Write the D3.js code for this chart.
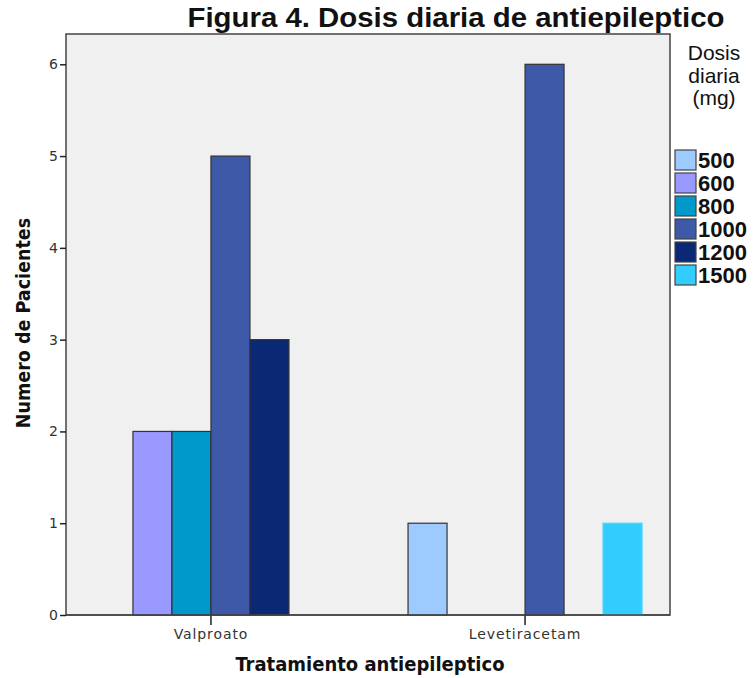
<!DOCTYPE html>
<html>
<head>
<meta charset="utf-8">
<script src="https://cdn.jsdelivr.net/npm/d3@7"></script>
<style>
body { margin: 0; background: #ffffff; }
</style>
</head>
<body>
<svg id="chart"></svg>
<script>
//Data
var treatments = ["Valproato", "Levetiracetam"];
var doses = ["500", "600", "800", "1000", "1200", "1500"];
var valproatoCounts = [0, 2, 2, 5, 3, 0];
var levetiracetamCounts = [1, 0, 0, 6, 0, 1];
var doseColors = ["#9ecbff", "#9999ff", "#0099cc", "#3d59a8", "#0a2873", "#33ccff"];
var yTicks = [0, 1, 2, 3, 4, 5, 6];

//Rows for the bars
var rows = [];
treatments.forEach(function(t, ti){
    var counts = ti === 0 ? valproatoCounts : levetiracetamCounts;
    doses.forEach(function(dose, di){
        if (counts[di] > 0) rows.push({treatment: t, dose: dose, value: counts[di]});
    });
});

//Dimensions
var dimensions = {
    width: 754,
    height: 678,
    margin: { top: 34, right: 84, bottom: 63, left: 66 }
};

var svg = d3.select("#chart")
            .attr("width", dimensions.width)
            .attr("height", dimensions.height)
            .style("font-family", "'DejaVu Sans Condensed', 'DejaVu Sans', sans-serif");

var plotBottom = dimensions.height - dimensions.margin.bottom;
var plotRight = dimensions.width - dimensions.margin.right;

//Scales
var xScale = d3.scaleBand()
               .domain(treatments)
               .range([dimensions.margin.left, plotRight])
               .paddingInner(0.255)
               .paddingOuter(0.089);

var xSub = d3.scaleBand()
             .domain(doses)
             .range([0, xScale.bandwidth()]);

var yScale = d3.scaleLinear()
               .domain([0, 6.33])
               .range([plotBottom, dimensions.margin.top]);

var colorScale = d3.scaleOrdinal().domain(doses).range(doseColors);

//Plot background
svg.append("rect")
    .attr("x", dimensions.margin.left)
    .attr("y", dimensions.margin.top)
    .attr("width", plotRight - dimensions.margin.left)
    .attr("height", plotBottom - dimensions.margin.top)
    .style("fill", "#f0f0f0")
    .style("stroke", "#444")
    .style("stroke-width", 1.5);

//Bars
svg.append("g")
    .selectAll("rect")
    .data(rows)
    .join("rect")
    .attr("x", function(d){ return xScale(d.treatment) + xSub(d.dose); })
    .attr("y", function(d){ return yScale(d.value); })
    .attr("width", xSub.bandwidth())
    .attr("height", function(d){ return plotBottom - yScale(d.value); })
    .style("fill", function(d){ return colorScale(d.dose); })
    .style("stroke", function(d){ return d.dose === "1500" ? "#4fd2ff" : "#333"; })
    .style("stroke-width", 1.2);

//Y-axis
var yAxis = svg.append("g")
               .attr("transform", "translate(" + dimensions.margin.left + ",0)")
               .call(d3.axisLeft(yScale).tickValues(yTicks).tickSize(6).tickPadding(2).tickFormat(d3.format("d")));
yAxis.select(".domain").remove();
yAxis.selectAll("line").style("stroke", "#222").style("stroke-width", 1.5);
yAxis.selectAll("text").style("font-size", "14px").style("fill", "#333")
     .style("font-family", "'DejaVu Sans', sans-serif");

//X-axis
var xAxis = svg.append("g")
               .attr("transform", "translate(0," + plotBottom + ")")
               .call(d3.axisBottom(xScale).tickSize(10).tickPadding(4));
xAxis.select(".domain").remove();
xAxis.selectAll("line").style("stroke", "#222").style("stroke-width", 1.5);
xAxis.selectAll("text").style("font-size", "14px").style("fill", "#333")
     .style("letter-spacing", "0.9px")
     .style("font-family", "'DejaVu Sans', sans-serif");

//Redraw bottom border over bars
svg.append("line")
    .attr("x1", dimensions.margin.left).attr("x2", plotRight)
    .attr("y1", plotBottom).attr("y2", plotBottom)
    .style("stroke", "#444").style("stroke-width", 1.5);

//Title
svg.append("text")
    .attr("x", 456)
    .attr("y", 27)
    .attr("text-anchor", "middle")
    .attr("textLength", 537)
    .attr("lengthAdjust", "spacingAndGlyphs")
    .style("font-family", "'Liberation Sans', Arial, sans-serif")
    .style("font-weight", "bold")
    .style("font-size", "27px")
    .style("fill", "#111")
    .text("Figura 4. Dosis diaria de antiepileptico");

//Axis titles
svg.append("text")
    .attr("x", 370)
    .attr("y", 671)
    .attr("text-anchor", "middle")
    .style("font-weight", "bold")
    .style("font-size", "20px")
    .style("fill", "#111")
    .text("Tratamiento antiepileptico");

svg.append("text")
    .attr("transform", "rotate(-90)")
    .attr("x", -323)
    .attr("y", 30)
    .attr("text-anchor", "middle")
    .style("font-weight", "bold")
    .style("font-size", "19.5px")
    .style("fill", "#111")
    .text("Numero de Pacientes");

//Legend
var legendTitle = ["Dosis", "diaria", "(mg)"];
svg.append("g")
    .selectAll("text")
    .data(legendTitle)
    .join("text")
    .attr("x", 714)
    .attr("y", function(d, i){ return 60 + i * 22.5; })
    .attr("text-anchor", "middle")
    .style("font-family", "'Liberation Sans', Arial, sans-serif")
    .style("font-size", "21px")
    .style("fill", "#111")
    .text(function(d){ return d; });

var legendScale = d3.scaleBand().domain(doses).range([150, 288]);

var legendItems = svg.append("g")
    .selectAll("g")
    .data(doses)
    .join("g")
    .attr("transform", function(d){ return "translate(675," + legendScale(d) + ")"; });

legendItems.append("rect")
    .attr("width", 21)
    .attr("height", 20)
    .style("fill", function(d){ return colorScale(d); })
    .style("stroke", "#444")
    .style("stroke-width", 1.2);

legendItems.append("text")
    .attr("x", 23)
    .attr("y", 18)
    .style("font-family", "'Liberation Sans', Arial, sans-serif")
    .style("font-weight", "bold")
    .style("font-size", "22px")
    .style("fill", "#111")
    .text(function(d){ return d; });
</script>
</body>
</html>
